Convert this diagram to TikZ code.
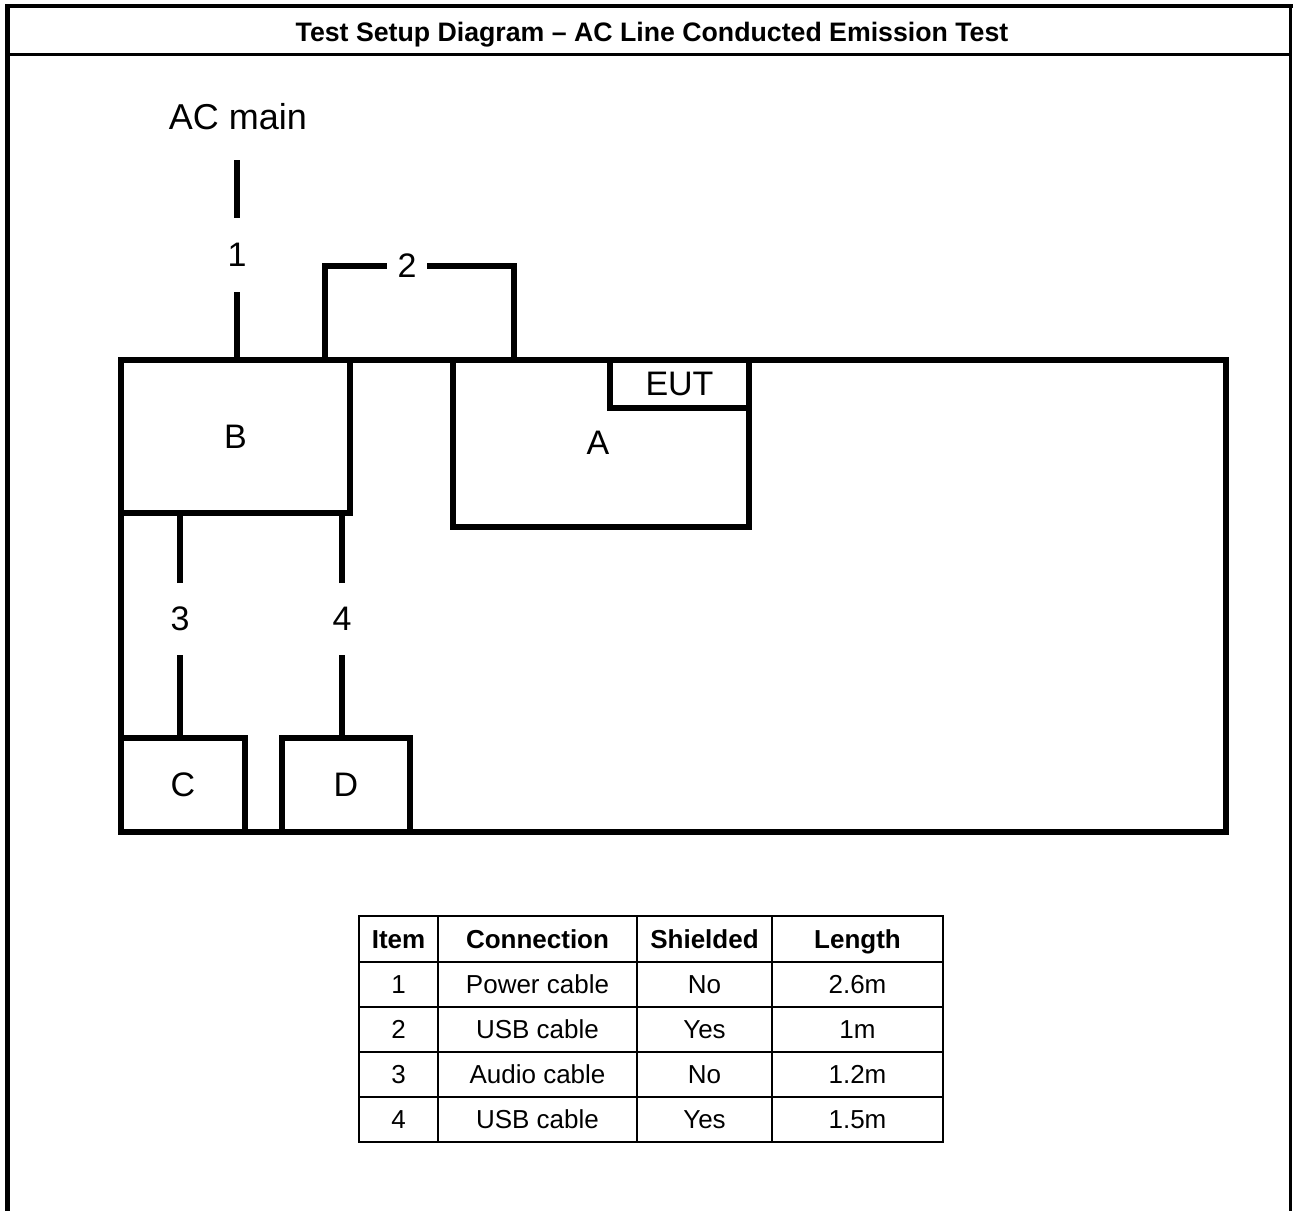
\documentclass[tikz,border=0pt]{standalone}
\usepackage{fontspec}
\setmainfont{Liberation Sans}
\begin{document}
\begin{tikzpicture}[x=1pt,y=-1pt,
  thickline/.style={line width=6pt},
  box/.style={draw, line width=6pt, inner sep=0pt, outer sep=0pt, anchor=north west, font=\fontsize{34}{40}\selectfont},
  lab/.style={inner sep=0pt, outer sep=0pt, font=\fontsize{34}{40}\selectfont},
  cablelab/.style={lab, minimum height=72pt},
  cell/.style={inner sep=0pt, text height=18.5pt, text depth=0pt, font=\fontsize{26}{30}\selectfont},
  head/.style={inner sep=0pt, text height=18.5pt, text depth=0pt, font=\fontsize{26}{30}\selectfont\bfseries},
  gridline/.style={line width=1.5pt}]
\useasboundingbox (0,0) rectangle (1293,1211);
% outer frame
\draw[line width=5pt] (7.5,4) -- (7.5,1211);
\draw[line width=4pt] (5,6) -- (1293,6);
\draw[line width=3pt] (1290.5,4) -- (1290.5,1211);
\draw[line width=3pt] (7,54) -- (1291,54);
\node[inner sep=0pt, text height=19pt, text depth=0pt, font=\fontsize{26.7}{30}\selectfont\bfseries] (title) at (652,32) {Test Setup Diagram – AC Line Conducted Emission Test};
% bench and equipment
\node[box, minimum width=1105pt, minimum height=472pt] (bench) at (121,360) {};
\node[box, minimum width=229pt, minimum height=153pt] (B) at (121,360) {B};
\node[box, minimum width=296pt, minimum height=167pt] (A) at (453,360) {};
\node[lab] (Alab) at (598,443) {A};
\node[box, minimum width=139pt, minimum height=48pt] (EUT) at (610,360) {EUT};
\node[box, minimum width=124pt, minimum height=94pt] (C) at (121,738) {C};
\node[box, minimum width=128pt, minimum height=94pt] (D) at (282,738) {D};
% cable 1
\node[lab, font=\fontsize{36}{42}\selectfont] (ac) at (238,117) {AC main};
\coordinate (ac1) at (237,160);
\node[cablelab, minimum height=74pt] (n1) at (237,255) {1};
\draw[thickline] (ac1) -- (n1.north);
\draw[thickline] (n1.south) -- (n1.south |- B.north);
% cable 2
\coordinate (c2a) at (325,360);
\coordinate (c2b) at (514,360);
\node[lab, minimum width=40pt] (n2) at (407,266) {2};
\draw[thickline] (c2a) |- (n2.west);
\draw[thickline] (n2.east) -| (c2b);
% cable 3
\node[cablelab] (n3) at (180,619) {3};
\draw[thickline] (n3.north) -- (n3.north |- B.south);
\draw[thickline] (n3.south) -- (n3.south |- C.north);
% cable 4
\node[cablelab] (n4) at (342,619) {4};
\draw[thickline] (n4.north) -- (n4.north |- B.south);
\draw[thickline] (n4.south) -- (n4.south |- D.north);
% table
\draw[gridline] (359,916) rectangle (943,1142);
\foreach \yy in {962,1007,1052,1097} \draw[gridline] (359,\yy) -- (943,\yy);
\foreach \xx in {438,637,772} \draw[gridline] (\xx,916) -- (\xx,1142);
\node[head] (h1) at (398.5,939) {Item};
\node[head] (h2) at (537.5,939) {Connection};
\node[head] (h3) at (704.5,939) {Shielded};
\node[head] (h4) at (857.5,939) {Length};
\foreach \r/\yy/\a/\b/\c/\d in {1/984.5/1/Power cable/No/2.6m, 2/1029.5/2/USB cable/Yes/1m, 3/1074.5/3/Audio cable/No/1.2m, 4/1119.5/4/USB cable/Yes/1.5m}{
  \node[cell] (r\r c1) at (398.5,\yy) {\a};
  \node[cell] (r\r c2) at (537.5,\yy) {\b};
  \node[cell] (r\r c3) at (704.5,\yy) {\c};
  \node[cell] (r\r c4) at (857.5,\yy) {\d};
}
\end{tikzpicture}
\end{document}
